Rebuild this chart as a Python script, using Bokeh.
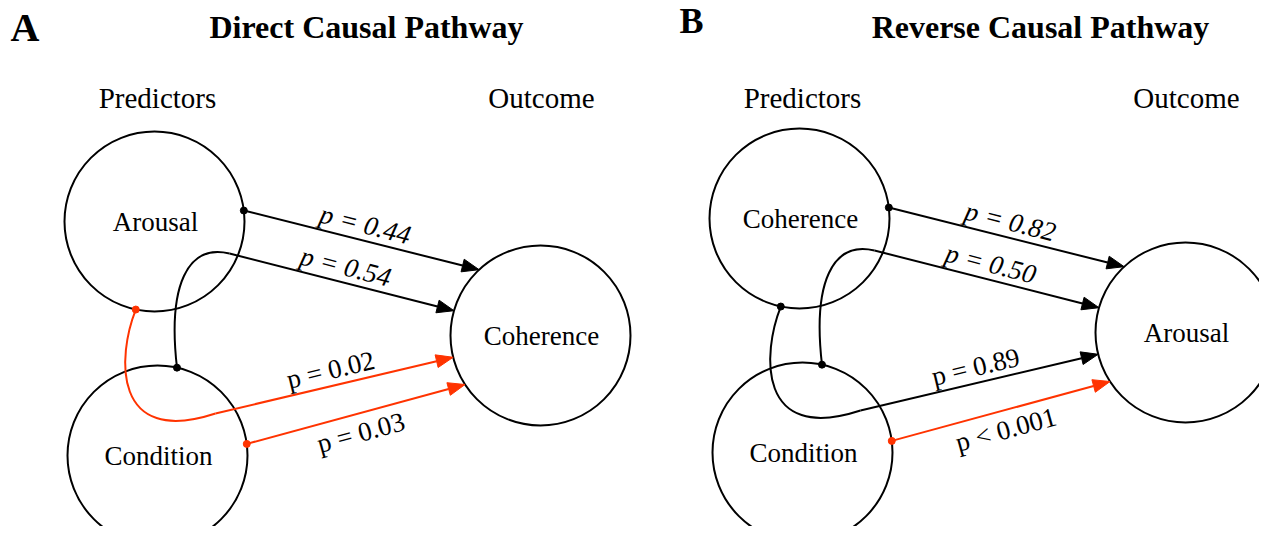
import math
from bokeh.plotting import figure
from bokeh.models import Range1d
from bokeh.embed import file_html
from bokeh.resources import INLINE
from bokeh.core.properties import value

# ---------------- data ----------------
panel_letters = ["A", "B"]
panel_titles = ["Direct Causal Pathway", "Reverse Causal Pathway"]
column_headers = ["Predictors", "Outcome"]

nodes_A = ["Arousal", "Condition", "Coherence"]      # top predictor, bottom predictor, outcome
nodes_B = ["Coherence", "Condition", "Arousal"]

edge_source_A = ["Arousal", "Condition", "Arousal", "Condition"]
edge_label_A = ["p = 0.44", "p = 0.54", "p = 0.02", "p = 0.03"]
edge_significant_A = [False, False, True, True]

edge_source_B = ["Coherence", "Condition", "Coherence", "Condition"]
edge_label_B = ["p = 0.82", "p = 0.50", "p = 0.89", "p < 0.001"]
edge_significant_B = [False, False, False, True]

# ---------------- layout / style ----------------
W, H = 1259, 526
R = 90
FONT = "Liberation Serif"
RED = "#ff3300"
BLACK = "#000000"

panel_origin = [(154, 221), (799, 218)]          # centre of top predictor node
node_offset = [(0, 0), (3, 234), (386, 114)]      # top predictor, bottom predictor, outcome
title_pos = [(366, 26), (1040, 26)]
letter_pos = [(10, 27, 40), (679, 20, 36)]
header_y = 97

# per edge: start angle (deg, screen), optional curve (controls relative to bottom predictor), target angle
edge_geom = [
    dict(a0=-7.0, curve=None, a1=-133.0, side=1, italic=True),
    dict(a0=-77.5, curve=[(10, -170), (30, -212), (72, -202)], a1=-164.0, side=1, italic=True),
    dict(a0=102.0, curve=[(-40, -100), (-46, -8), (58, -42)], a1=166.0, side=1, italic=False),
    dict(a0=-7.4, curve=None, a1=147.0, side=-1, italic=False),
]
HEAD_LEN, HEAD_HALF = 17, 6.5

p = figure(width=W, height=H, output_backend="svg", toolbar_location=None,
           x_range=Range1d(0, W), y_range=Range1d(H, 0),
           min_border=0, background_fill_color="white", border_fill_color="white")
p.axis.visible = False
p.grid.visible = False
p.outline_line_color = None

panels = [
    (nodes_A, edge_source_A, edge_label_A, edge_significant_A),
    (nodes_B, edge_source_B, edge_label_B, edge_significant_B),
]

for pi, (nodes, sources, labels, sig) in enumerate(panels):
    ox, oy = panel_origin[pi]
    centres = [(ox + dx, oy + dy) for dx, dy in node_offset]

    # panel letter and title
    lx_, ly_, lsz = letter_pos[pi]
    p.text(x=[lx_], y=[ly_], text=[panel_letters[pi]],
           text_font=value(FONT), text_font_style="bold", text_font_size=f"{lsz}px",
           text_align="left", text_baseline="middle", text_color="black")
    p.text(x=[title_pos[pi][0]], y=[title_pos[pi][1]], text=[panel_titles[pi]],
           text_font=value(FONT), text_font_style="bold", text_font_size="32px",
           text_align="center", text_baseline="middle", text_color="black")
    p.text(x=[centres[0][0] + 3, centres[2][0] + 1], y=[header_y, header_y], text=column_headers,
           text_font=value(FONT), text_font_size="29px",
           text_align="center", text_baseline="middle", text_color="black")

    # nodes
    p.circle(x=[c[0] for c in centres], y=[c[1] for c in centres], radius=R,
             fill_color=None, line_color="black", line_width=2)
    p.text(x=[c[0] + 1 for c in centres], y=[c[1] for c in centres], text=nodes,
           text_font=value(FONT), text_font_size="27px",
           text_align="center", text_baseline="middle", text_color="black")

    # edges
    for ei, g in enumerate(edge_geom):
        src_idx = nodes.index(sources[ei])
        color = RED if sig[ei] else BLACK
        sx, sy = centres[src_idx]
        a0 = math.radians(g["a0"])
        x0, y0 = sx + R * math.cos(a0), sy + R * math.sin(a0)
        tx, ty = centres[2]
        a1 = math.radians(g["a1"])
        xt, yt = tx + R * math.cos(a1), ty + R * math.sin(a1)

        if g["curve"] is not None:
            bx, by = centres[1]
            (c1x, c1y), (c2x, c2y), (jx, jy) = [(bx + dx, by + dy) for dx, dy in g["curve"]]
            p.bezier(x0=[x0], y0=[y0], x1=[jx], y1=[jy], cx0=[c1x], cy0=[c1y], cx1=[c2x], cy1=[c2y],
                     line_color=color, line_width=2)
            lx, ly = jx, jy
        else:
            lx, ly = x0, y0

        dx, dy = xt - lx, yt - ly
        L = math.hypot(dx, dy)
        ux, uy = dx / L, dy / L
        bxh, byh = xt - HEAD_LEN * ux, yt - HEAD_LEN * uy
        p.segment(x0=[lx], y0=[ly], x1=[bxh], y1=[byh], line_color=color, line_width=2)
        nx, ny = -uy, ux
        p.patch(x=[xt, bxh + HEAD_HALF * nx, bxh - HEAD_HALF * nx],
                y=[yt, byh + HEAD_HALF * ny, byh - HEAD_HALF * ny],
                fill_color=color, line_color=color, line_width=1)
        p.scatter(x=[x0], y=[y0], size=7, marker="circle", fill_color=color, line_color=color)

        # label
        mx, my = lx + 0.5 * dx, ly + 0.5 * dy
        up = (uy, -ux)
        d = 16 if g["side"] > 0 else -19
        p.text(x=[mx + d * up[0]], y=[my + d * up[1]], text=[labels[ei]],
               angle=math.atan2(-dy, dx),
               text_font=value(FONT), text_font_size="27px",
               text_font_style="italic" if g["italic"] else "normal",
               text_align="center", text_baseline="middle", text_color="black")

open("out.html", "w").write(file_html(p, INLINE))
